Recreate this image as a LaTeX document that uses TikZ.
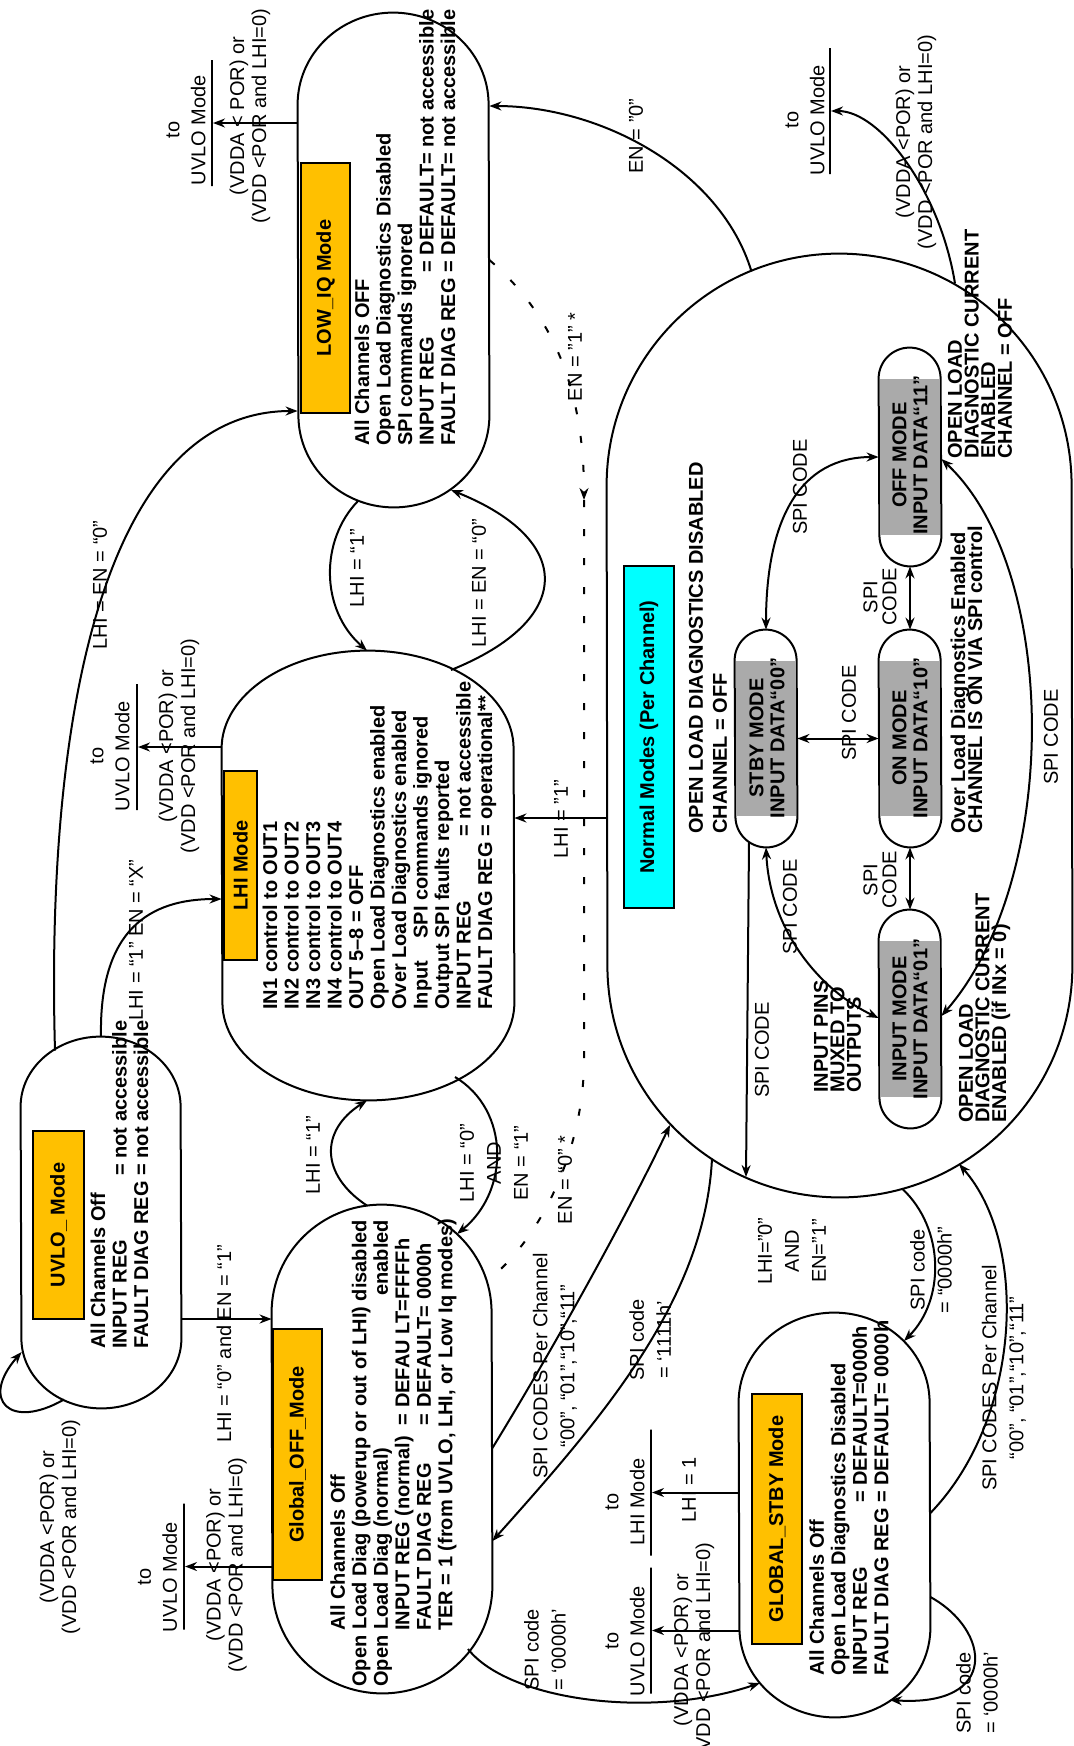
\documentclass[tikz,border=0pt]{standalone}
\usepackage{fontspec}
\setmainfont{Liberation Sans}
\usepackage{xcolor}
\usetikzlibrary{arrows.meta,calc}

\definecolor{titleorange}{RGB}{255,192,0}
\definecolor{titlecyan}{RGB}{0,255,255}
\definecolor{modegrey}{RGB}{170,170,170}

\newcommand{\tightlines}{\lineskiplimit-20pt\relax}

% name, left, top, width, height, cap height
\newcommand{\capsule}[6]{%
  \node[statebox, minimum width=#4*0.5pt, minimum height=#5*0.5pt] (#1) at ({#2+#4/2},{#3+#5/2}) {};
  \draw[stateline] ($(#1.north west)+(0,#6)$)
    arc[start angle=180, end angle=360, x radius=#4/2, y radius=#6]
    -- ($(#1.south east)-(0,#6)$)
    arc[start angle=0, end angle=180, x radius=#4/2, y radius=#6] -- cycle;
}

\begin{document}
\begin{tikzpicture}[x=0.5pt, y=-0.5pt,
  statebox/.style={draw=none, inner sep=0pt, rectangle},
  stateline/.style={line width=1pt},
  trans/.style={line width=1pt, -{Stealth[length=6pt, width=4.5pt]}},
  twoway/.style={line width=1pt, {Stealth[length=6pt, width=4.5pt]}-{Stealth[length=6pt, width=4.5pt]}},
  titlebox/.style={draw, line width=0.6pt, rotate=90, inner sep=0pt, font=\bfseries},
  body/.style={rotate=90, anchor=west, align=left, inner sep=0pt, font=\bfseries\fontsize{10}{10.75}\selectfont},
  side/.style={rotate=90, anchor=west, align=left, inner sep=0pt, font=\bfseries\fontsize{10}{8.3}\selectfont\tightlines},
  modetext/.style={rotate=90, align=center, inner sep=0pt, font=\bfseries\fontsize{10}{10.5}\selectfont},
  lbl/.style={rotate=90, align=center, inner sep=0pt, font=\fontsize{10}{13.5}\selectfont},
  tight/.style={lbl, font=\fontsize{10}{9.5}\selectfont\tightlines},
  cond/.style={lbl, font=\fontsize{10}{11}\selectfont},
  goal/.style={lbl, font=\fontsize{10}{13}\selectfont},
  bar/.style={draw, line width=1pt, inner sep=0pt, minimum width=0pt, minimum height=#1}]
  \useasboundingbox (0,0) rectangle (1073,1746);

  % states
  \capsule{lowiq}{298}{13}{191}{494}{92}
  \capsule{lhi}{222}{651}{292}{449}{98}
  \capsule{uvlo}{21}{1037}{160}{371}{70}
  \capsule{goff}{272}{1205}{220}{488}{108}
  \capsule{gstby}{739}{1313}{191}{404}{90}
  \capsule{normal}{607}{254}{465}{943}{232}
  \capsule{offm}{879}{348}{62}{218}{31}
  \capsule{onm}{879}{630}{62}{217}{31}
  \capsule{stbym}{735}{630}{62}{217}{31}
  \capsule{inm}{879}{910}{62}{218}{31}
  \foreach \m in {offm,onm,stbym,inm}
    \fill[modegrey] ([shift={(1.5,31)}]\m.north west) rectangle ([shift={(-1.5,-31)}]\m.south east);

  % titles
  \node[titlebox, fill=titleorange, minimum width=125pt, minimum height=24.5pt] (lowiqT) at (325.5,288) {LOW\_IQ Mode};
  \node[titlebox, fill=titleorange, minimum width=94.5pt, minimum height=16.5pt] (lhiT) at (240.5,865.5) {LHI Mode};
  \node[titlebox, fill=titleorange, minimum width=94pt, minimum height=25.5pt] (uvloT) at (58.5,1225) {UVLO\_ Mode};
  \node[titlebox, fill=titleorange, minimum width=125.5pt, minimum height=24.5pt] (goffT) at (297.5,1454.5) {Global\_OFF\_Mode};
  \node[titlebox, fill=titleorange, minimum width=125pt, minimum height=25pt] (gstbyT) at (777,1519) {GLOBAL\_STBY Mode};
  \node[titlebox, fill=titlecyan, minimum width=171pt, minimum height=25pt] (normalT) at (649,737) {Normal Modes (Per Channel)};

  % state texts
  \node[body] (lowiqB) at (405,446) {All Channels OFF\\Open Load Diagnostics Disabled\\SPI commands ignored\\\rlap{INPUT REG}\phantom{FAULT DIAG REG} = DEFAULT= not accessible\\FAULT DIAG REG = DEFAULT= not accessible};
  \node[body] (lhiB) at (379.5,1010) {IN1 control to OUT1\\IN2 control to OUT2\\IN3 control to OUT3\\IN4 control to OUT4\\OUT 5--8 = OFF\\Open Load Diagnostics enabled\\Over Load Diagnostics enabled\\\rlap{Input}\phantom{Output} SPI commands ignored\\Output SPI faults reported\\\rlap{INPUT REG}\phantom{FAULT DIAG REG} = not accessible\\FAULT DIAG REG = operational**};
  \node[body] (uvloB) at (119.5,1349) {All Channels Off\\\rlap{INPUT REG}\phantom{FAULT DIAG REG} = not accessible\\FAULT DIAG REG = not accessible};
  \node[body] (goffB) at (393.5,1687) {\hspace*{28pt}All Channels Off\\Open Load Diag (powerup or out of LHI) disabled\\\rlap{Open Load Diag (normal)}\phantom{Open Load Diag (powerup or out of LHI) dis}\llap{en}abled\\\hspace*{28pt}INPUT REG (normal)\ \ = DEFAU LT=FFFFh\\\hspace*{28pt}\rlap{FAULT DIAG REG}\phantom{INPUT REG (normal)\ \ }= DEFAULT= 0000h\\\hspace*{28pt}TER = 1 (from UVLO, LHI, or Low Iq modes)};
  \node[body] (gstbyB) at (849,1676) {All Channels Off\\Open Load Diagnostics Disabled\\\rlap{INPUT REG}\phantom{FAULT DIAG REG} = DEFAULT=0000h\\FAULT DIAG REG = DEFAULT= 0000h};
  \node[body, font=\bfseries\fontsize{10}{12}\selectfont] (normalB) at (708,834) {OPEN LOAD DIAGNOSTICS DISABLED\\CHANNEL = OFF};

  % channel modes
  \node[modetext] (offT) at (910,455) {OFF MODE\\INPUT DATA“11”};
  \node[modetext] (onT) at (910,738) {ON MODE\\INPUT DATA“10”};
  \node[modetext] (stbyT) at (767,738) {STBY MODE\\INPUT DATA“00”};
  \node[modetext] (inT) at (910,1019) {INPUT MODE\\INPUT DATA“01”};
  \node[side] (offS) at (980,459) {OPEN LOAD\\DIAGNOSTIC CURRENT\\ENABLED\\CHANNEL = OFF};
  \node[side, font=\bfseries\fontsize{10}{8.5}\selectfont\tightlines] (onS) at (966.5,834) {Over Load Diagnostics Enabled\\CHANNEL IS ON VIA SPI control};
  \node[side] (inL) at (837.5,1093) {INPUT PINS\\MUXED TO\\OUTPUTS};
  \node[side] (inR) at (984.5,1123) {OPEN LOAD\\DIAGNOSTIC CURRENT\\ENABLED (if INx = 0)};

  % exits
  \node[bar=63pt] (barA) at (212,123) {};
  \node[goal] (goalA) at (186,130) {to\\UVLO Mode};
  \node[cond] (condA) at (250,116) {(VDDA < POR) or\\(VDD <POR and LHI=0)};
  \node[bar=63pt] (barB) at (137,747) {};
  \node[goal] (goalB) at (110,756) {to\\UVLO Mode};
  \node[cond] (condB) at (179,746) {(VDDA <POR) or\\(VDD <POR and LHI=0)};
  \node[bar=63pt] (barC) at (184,1566.5) {};
  \node[goal] (goalC) at (157.5,1577) {to\\UVLO Mode};
  \node[cond] (condC) at (226.5,1565) {(VDDA <POR) or\\(VDD <POR and LHI=0)};
  \node[bar=63pt] (barD) at (830,111) {};
  \node[goal] (goalD) at (805,120) {to\\UVLO Mode};
  \node[cond] (condD) at (916,142) {(VDDA <POR) or\\(VDD <POR and LHI=0)};
  \node[bar=63pt] (barE) at (651,1492.5) {};
  \node[goal] (goalE) at (625,1502) {to\\LHI Mode};
  \node[lbl] (lhiF) at (689,1490) {LHI = 1};
  \node[bar=63pt] (barF) at (651,1630.5) {};
  \node[goal] (goalF) at (625,1641) {to\\UVLO Mode};
  \node[cond] (condF) at (694,1650) {(VDDA <POR) or\\(VDD <POR and LHI=0)};
  \node[cond] (condG) at (60,1527) {(VDDA <POR) or\\(VDD <POR and LHI=0)};

  % transition labels
  \node[lbl] (enA) at (636,136) {EN = "0"};
  \node[lbl] (lhienA) at (100,585) {LHI = EN = “0”};
  \node[lbl] (lhiA) at (357,568) {LHI = “1”};
  \node[lbl] (lhienB) at (479,583) {LHI = EN = “0”};
  \node[lbl] (enB) at (575,357) {EN = "1" *};
  \node[lbl] (lhiX) at (136,940) {LHI = “1” EN = “X”};
  \node[lbl] (lhiB) at (561,819) {LHI = "1"};
  \node[lbl] (lhiC) at (313,1155) {LHI = “1”};
  \node[lbl] (lhiand) at (494,1163) {LHI = “0”\\AND\\EN = “1”};
  \node[lbl] (enC) at (565,1180) {EN = “0” *};
  \node[lbl] (lhiD) at (224,1344) {LHI = “0” and EN = “1”};
  \node[lbl] (codesA) at (555,1366) {SPI CODES Per Channel\\“00”, “01”,“10”,“11”};
  \node[lbl] (codeA) at (650,1340) {SPI code\\= `1111h'};
  \node[lbl] (lhiE) at (792,1251) {LHI="0"\\AND\\EN="1"};
  \node[lbl] (codeB) at (931,1270) {SPI code\\= “0000h”};
  \node[lbl] (codesB) at (1004,1378) {SPI CODES Per Channel\\“00”, “01”,“10”,“11”};
  \node[lbl] (codeC) at (977,1693) {SPI code\\= `0000h'};
  \node[lbl] (codeD) at (545,1650) {SPI code\\= `0000h'};
  \node[lbl] (spiA) at (800,487) {SPI CODE};
  \node[tight] (spiB) at (880,597) {SPI\\CODE};
  \node[lbl] (spiC) at (849,713) {SPI CODE};
  \node[tight] (spiD) at (880,880) {SPI\\CODE};
  \node[lbl] (spiE) at (790,907) {SPI CODE};
  \node[lbl] (spiF) at (762,1050) {SPI CODE};
  \node[lbl] (spiG) at (1051,737) {SPI CODE};

  % global transitions
  \draw[trans] ([shift={(-88,-454)}]normal.center) .. controls +(-31,-102) and +(111,0) .. ([shift={(0,-154)}]lowiq.east);
  \draw[trans] ([shift={(-46,-172)}]uvlo.center) .. controls +(-10,-351) and +(-188,0) .. ([shift={(0,151)}]lowiq.west);
  \draw[trans] ([shift={(-35.5,241)}]lowiq.center) .. controls +(-38,39) and +(-47,-41) .. ([shift={(-1,0)}]lhi.north);
  \draw[trans] ([shift={(83,-205.5)}]lhi.center) .. controls +(124,-50) and +(124,50) .. ([shift={(57.5,230)}]lowiq.center);
  \coordinate (enmid) at (584,500);
  \draw[trans, dash pattern=on 3.5pt off 11pt] (lowiq.east) .. controls +(70,60) and +(0,-100) .. (enmid);
  \draw[line width=1pt, dash pattern=on 3.5pt off 11pt] (enmid) -- ++(0,560) .. controls +(0,90) and +(53,-41) .. ([shift={(105,-168)}]goff.center);
  \draw[trans] ([shift={(0,92.5)}]normal.west) -- ([shift={(0,-57.5)}]lhi.east);
  \draw[trans] (uvlo.north) .. controls +(-2,-107) and +(-72,0) .. ([shift={(0,23.5)}]lhi.west);
  \draw[trans] ([shift={(-15,1)}]goff.north) .. controls +(-47,-31) and +(-47,30) .. ([shift={(-1,0)}]lhi.south);
  \draw[trans] ([shift={(87,201.5)}]lhi.center) .. controls +(55,33) and +(53,-43) .. ([shift={(75,-215)}]goff.center);
  \draw[trans] ([shift={(0,96.5)}]uvlo.east) -- ([shift={(0,-130)}]goff.west);
  \draw[trans] ([shift={(-37,177)}]uvlo.center) .. controls +(-54,31) and +(-42,48) .. ([shift={(1,129.5)}]uvlo.west);
  \draw[trans] ([shift={(0,-1)}]goff.east) .. controls +(48,-78) and +(-50,105) .. ([shift={(-169.5,399.5)}]normal.center);
  \draw[trans] ([shift={(-127.5,433)}]normal.center) .. controls +(-7,142) and +(108,-121) .. ([shift={(0,92)}]goff.east);
  \draw[trans] ([shift={(86,200)}]goff.center) .. controls +(40,51) and +(-110,37) .. ([shift={(-74.5,168)}]gstby.center);
  \draw[trans] ([shift={(0,82)}]gstby.east) .. controls +(60,33) and +(110,7) .. ([shift={(55.5,185)}]gstby.center);
  \draw[trans] ([shift={(62.5,463)}]normal.center) .. controls +(43,40) and +(41,-41) .. ([shift={(69.5,-174)}]gstby.center);
  \draw[trans] ([shift={(0,-2)}]gstby.east) .. controls +(90,-93) and +(71,81) .. ([shift={(119.5,438.5)}]normal.center);
  \draw[trans] ([shift={(115.5,-442)}]normal.center) .. controls +(-15,-93) and +(50,0) .. (barD);
  \draw[trans] ([shift={(0,-137)}]lowiq.west) -- (barA);
  \draw[trans] ([shift={(0,-128.5)}]lhi.west) -- (barB);
  \draw[trans] ([shift={(0,117.5)}]goff.west) -- (barC);
  \draw[trans] ([shift={(0,-22.5)}]gstby.west) -- (barE);
  \draw[trans] ([shift={(0,115.5)}]gstby.west) -- (barF);

  % channel transitions
  \draw[twoway] (stbym.north) .. controls +(0,-110) and +(-79,0) .. (offm.west);
  \draw[twoway] (offm.south) -- (onm.north);
  \draw[twoway] (stbym.east) -- (onm.west);
  \draw[twoway] (onm.south) -- (inm.north);
  \draw[twoway] (stbym.south) .. controls +(4,83) and +(-59,-28) .. ([shift={(0,-1)}]inm.west);
  \draw[twoway] ([shift={(0,2)}]offm.east) .. controls +(119,111) and +(119,-136) .. ([shift={(0,-3)}]inm.east);
  \draw[trans] ([shift={(-17,104)}]stbym.center) -- ([shift={(-93.5,451.5)}]normal.center);
\end{tikzpicture}
\end{document}
